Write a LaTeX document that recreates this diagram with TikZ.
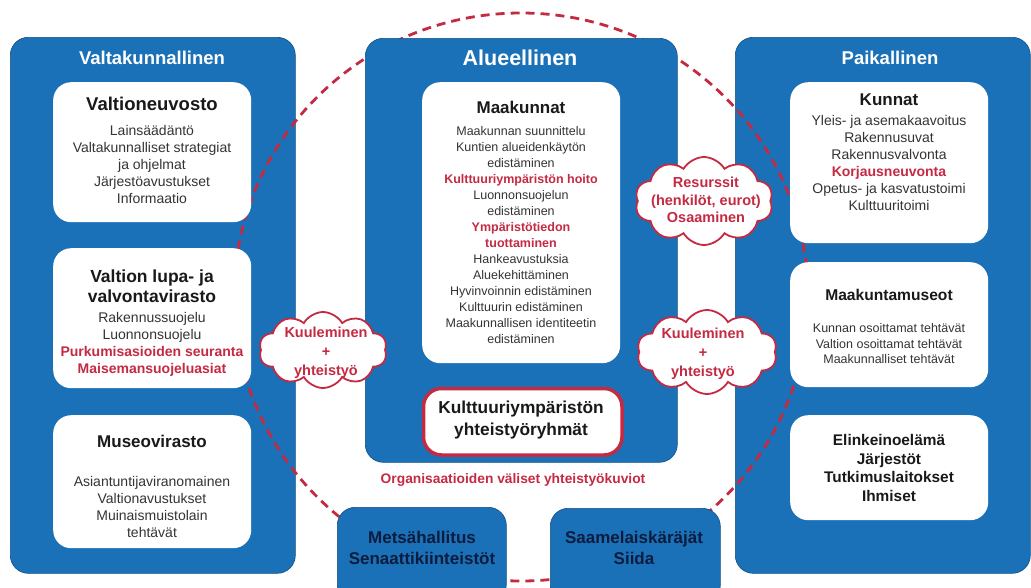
\documentclass[tikz,border=0pt]{standalone}
\usepackage{fontspec}
\setmainfont{Liberation Sans}
\usetikzlibrary{shapes.symbols}
\definecolor{panelblue}{RGB}{27,113,183}
\definecolor{accentred}{RGB}{196,42,66}
\definecolor{bodygray}{RGB}{52,52,52}
\definecolor{navytext}{RGB}{12,28,62}
\newcommand{\hlred}[1]{\textcolor{accentred}{\bfseries #1}}
\begin{document}
\begin{tikzpicture}[x=1pt,y=-1pt,
    every node/.style={inner sep=0pt,align=center,text=bodygray},
    panel/.style={anchor=north west,fill=panelblue,draw=panelblue!70!black,line width=.6pt,rounded corners=18pt},
    card/.style={anchor=north west,fill=white,rounded corners=18pt},
    blob/.style={cloud,cloud puffs=10,cloud puff arc=120,cloud ignores aspect,fill=white,draw=accentred,line width=1.8pt},
    paneltitle/.style={text=white,font=\bfseries\fontsize{18.5}{22}\selectfont},
    cardhead/.style={text=black!90,font=\bfseries\fontsize{18}{21}\selectfont},
    cardbody/.style={font=\fontsize{14}{17}\selectfont},
    smallbody/.style={font=\fontsize{12.5}{16}\selectfont},
    boxtext/.style={text=navytext,font=\bfseries\fontsize{17}{20.5}\selectfont},
    blobtext/.style={text=accentred,font=\bfseries\fontsize{14.5}{19}\selectfont},
    ringline/.style={draw=accentred,line width=2.8pt,dash pattern=on 9pt off 6pt}
    ]
  \useasboundingbox (0,0) rectangle (1031,587);
  \clip (0,0) rectangle (1031,587);

  % outer columns, then the ring, then the regional column
  \node[panel,minimum width=285pt,minimum height=536pt] (valta) at (10,37) {};
  \node[panel,minimum width=295pt,minimum height=536pt] (paik) at (735,37) {};
  \draw[ringline] (521,297) ellipse [x radius=287pt,y radius=284pt];
  \node[panel,minimum width=312pt,minimum height=424pt] (alue) at (365,38) {};

  \node[paneltitle] (valtaT) at (152,58) {Valtakunnallinen};
  \node[paneltitle,font=\bfseries\fontsize{21.5}{24}\selectfont] (alueT) at (520,58) {Alueellinen};
  \node[paneltitle] (paikT) at (890,58) {Paikallinen};

  % Valtakunnallinen
  \node[card,minimum width=198pt,minimum height=140pt] (vn) at (53,82) {};
  \node[card,minimum width=198pt,minimum height=140pt] (lupa) at (53,248) {};
  \node[card,minimum width=198pt,minimum height=133pt] (mv) at (53,415) {};
  \node[cardhead,font=\bfseries\fontsize{18.5}{21}\selectfont] (vnT) at (152,104) {Valtioneuvosto};
  \node[cardbody] (vnB) at (152,164) {Lainsäädäntö\\Valtakunnalliset strategiat\\ja ohjelmat\\Järjestöavustukset\\Informaatio};
  \node[cardhead,font=\bfseries\fontsize{17.5}{20.5}\selectfont] (lupaT) at (152,286) {Valtion lupa- ja\\valvontavirasto};
  \node[cardbody] (lupaB) at (152,344) {Rakennussuojelu\\Luonnonsuojelu\\\hlred{Purkumisasioiden seuranta}\\\hlred{Maisemansuojeluasiat}};
  \node[cardhead,font=\bfseries\fontsize{17}{20}\selectfont] (mvT) at (152,441) {Museovirasto};
  \node[cardbody] (mvB) at (152,507) {Asiantuntijaviranomainen\\Valtionavustukset\\Muinaismuistolain\\tehtävät};

  % Alueellinen
  \node[card,minimum width=198pt,minimum height=281pt] (maak) at (422,82) {};
  \node[cardhead,font=\bfseries\fontsize{17}{20}\selectfont] (maakT) at (521,107) {Maakunnat};
  \node[smallbody] (maakB) at (521,235) {Maakunnan suunnittelu\\Kuntien alueidenkäytön\\edistäminen\\\hlred{Kulttuuriympäristön hoito}\\Luonnonsuojelun\\edistäminen\\\hlred{Ympäristötiedon}\\\hlred{tuottaminen}\\Hankeavustuksia\\Aluekehittäminen\\Hyvinvoinnin edistäminen\\Kulttuurin edistäminen\\Maakunnallisen identiteetin\\edistäminen};
  \node[card,draw=accentred,line width=3.5pt,minimum width=198.5pt,minimum height=66.5pt] (ryhma) at (421.75,386.75) {};
  \node[cardhead,font=\bfseries\fontsize{17.3}{21.5}\selectfont] (ryhmaT) at (521,420) {Kulttuuriympäristön\\yhteistyöryhmät};
  \node[text=accentred,font=\bfseries\fontsize{13.8}{16}\selectfont] (kuviot) at (513,480) {Organisaatioiden väliset yhteistyökuviot};

  \node[panel,minimum width=169pt,minimum height=95pt] (metsa) at (337,507) {};
  \node[panel,minimum width=170pt,minimum height=95pt] (saame) at (550,508) {};
  \node[boxtext] (metsaT) at (422,548) {Metsähallitus\\Senaattikiinteistöt};
  \node[boxtext] (saameT) at (634,548) {Saamelaiskäräjät\\Siida};

  % Paikallinen
  \node[card,minimum width=198pt,minimum height=161pt] (kunnat) at (790,82) {};
  \node[card,minimum width=198pt,minimum height=125pt] (museot) at (790,262) {};
  \node[card,minimum width=198pt,minimum height=105pt] (muut) at (790,415) {};
  \node[cardhead,font=\bfseries\fontsize{17}{20}\selectfont] (kunnatT) at (889,100) {Kunnat};
  \node[cardbody] (kunnatB) at (889,163) {Yleis- ja asemakaavoitus\\Rakennusuvat\\Rakennusvalvonta\\\hlred{Korjausneuvonta}\\Opetus- ja kasvatustoimi\\Kulttuuritoimi};
  \node[cardhead,font=\bfseries\fontsize{15.6}{18}\selectfont] (museotT) at (889,295) {Maakuntamuseot};
  \node[smallbody,font=\fontsize{12.5}{15.5}\selectfont] (museotB) at (889,344) {Kunnan osoittamat tehtävät\\Valtion osoittamat tehtävät\\Maakunnalliset tehtävät};
  \node[cardhead,font=\bfseries\fontsize{15.4}{18.4}\selectfont] (muutT) at (889,468) {Elinkeinoelämä\\Järjestöt\\Tutkimuslaitokset\\Ihmiset};

  % clouds
  \node[blob,minimum width=128pt,minimum height=76pt] (kuulV) at (323,350) {};
  \node[blob,minimum width=138pt,minimum height=88pt] (resurssit) at (704,201) {};
  \node[blob,minimum width=140pt,minimum height=84pt] (kuulP) at (707,352) {};
  \node[blobtext] (kuulVT) at (326,353) {Kuuleminen\\+\\yhteistyö};
  \node[blobtext,font=\bfseries\fontsize{14.5}{17.5}\selectfont] (resurssitT) at (706,200) {Resurssit\\(henkilöt, eurot)\\Osaaminen};
  \node[blobtext] (kuulPT) at (703,354) {Kuuleminen\\+\\yhteistyö};
\end{tikzpicture}
\end{document}
